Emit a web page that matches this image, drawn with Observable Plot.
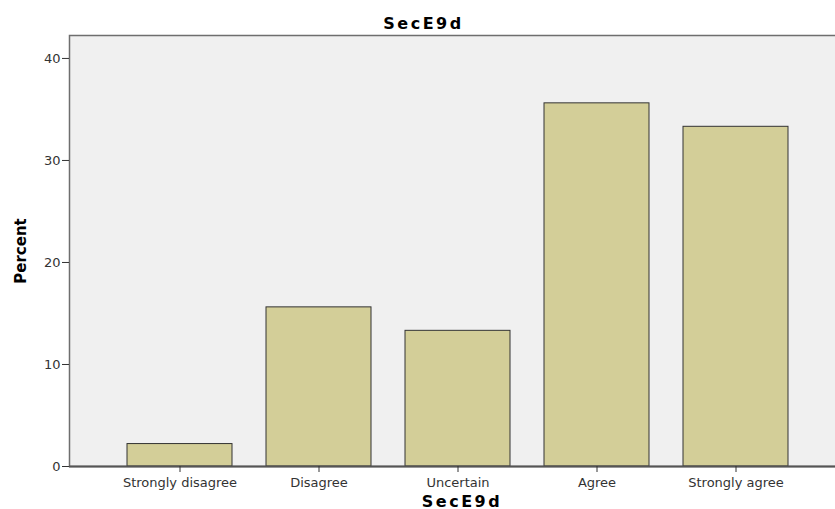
<!DOCTYPE html>
<html>
<head>
<meta charset="utf-8">
<script src="https://cdn.jsdelivr.net/npm/d3@7"></script>
<script src="https://cdn.jsdelivr.net/npm/@observablehq/plot@0.6"></script>
<style>
  html, body { margin: 0; padding: 0; background: #fff; overflow: hidden; }
  #chart svg { display: block; }
</style>
</head>
<body>
<div id="chart"></div>
<script>
const categories = ["Strongly disagree", "Disagree", "Uncertain", "Agree", "Strongly agree"];
const percents = [2.2, 15.6, 13.3, 35.6, 33.3];
const yTicks = [0, 10, 20, 30, 40];
const chartTitle = "SecE9d";
const xTitle = "SecE9d";
const yTitle = "Percent";

const data = categories.map((c, i) => ({category: c, percent: percents[i]}));

const chart = Plot.plot({
  width: 835,
  height: 509,
  marginLeft: 69,
  marginRight: -11,
  marginTop: 35,
  marginBottom: 43,
  style: {fontFamily: "DejaVu Sans", fontSize: "13px", color: "#333", background: "#fff"},
  x: {domain: categories, paddingInner: 0.245, paddingOuter: 0.403, label: null},
  y: {domain: [0, 42.25], label: null},
  marks: [
    Plot.frame({fill: "#f0f0f0", stroke: "#6e6e6e", strokeWidth: 1.5}),
    Plot.barY(data, {x: "category", y: "percent", fill: "#d3ce98", stroke: "#333", strokeWidth: 1}),
    Plot.ruleY([0], {stroke: "#555", strokeWidth: 2}),
    Plot.axisY({ticks: yTicks, tickSize: 7, tickPadding: 2, stroke: "#333", fill: "#333", fontSize: 13, label: null}),
    Plot.axisX({tickSize: 6, tickPadding: 5, stroke: "#333", fill: "#333", fontSize: 13, label: null}),
    Plot.text([chartTitle], {frameAnchor: "top", lineAnchor: "bottom", dy: -7, dx: -34.5,
      fontWeight: "bold", fontSize: 16, fill: "#000"}),
    Plot.text([xTitle], {frameAnchor: "bottom", lineAnchor: "bottom", dy: 40, dx: 4,
      fontWeight: "bold", fontSize: 16, fill: "#000"}),
    Plot.text([yTitle], {frameAnchor: "left", textAnchor: "middle", rotate: -90, dx: -48,
      fontWeight: "bold", fontSize: 15, fill: "#000"})
  ]
});

// letter spacing for the wide bold titles
chart.querySelectorAll("text").forEach(t => {
  if (t.textContent === chartTitle) t.setAttribute("letter-spacing", "2.5px");
});

document.getElementById("chart").appendChild(chart);
</script>
</body>
</html>
